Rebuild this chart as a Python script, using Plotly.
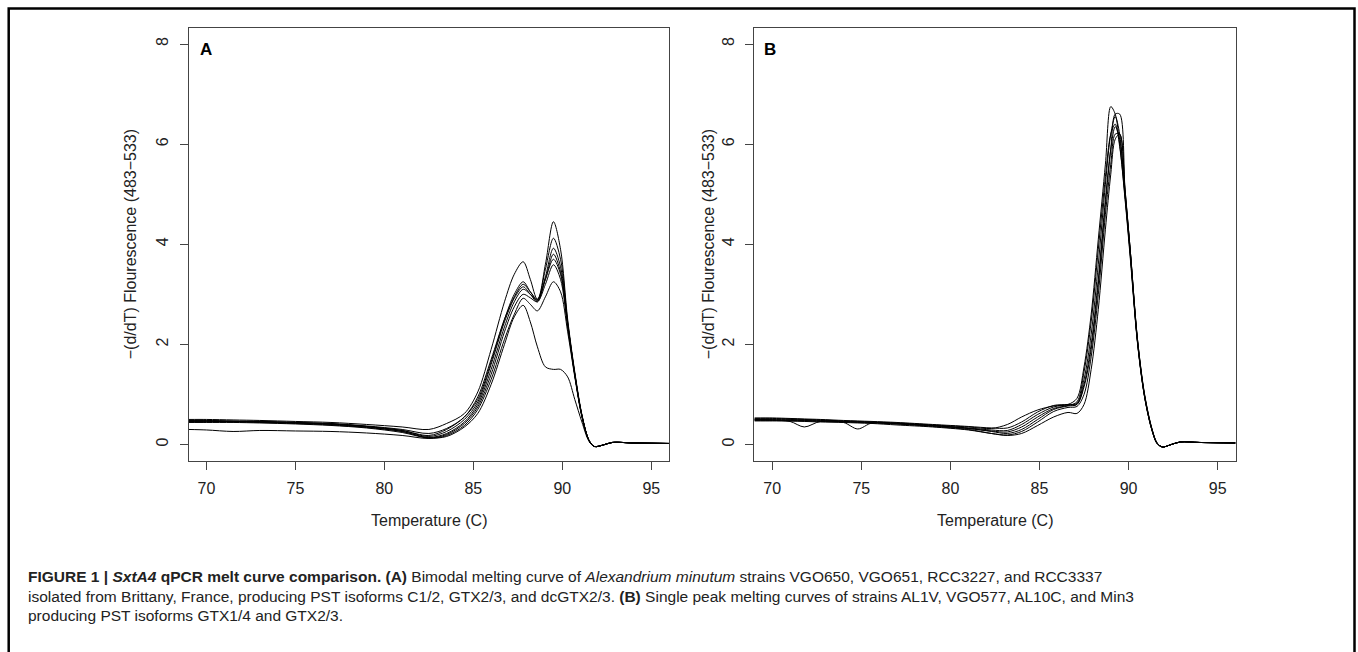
import plotly.graph_objects as go

# ---------------- data ----------------
temp_a = [69, 70, 71.5, 73, 75, 77, 79, 81, 82.5, 83.5, 84.5, 85.25, 86, 86.75, 87.3,
          87.8, 88.2, 88.6, 89.05, 89.5, 89.9, 90.3, 90.7, 91.1, 91.5, 91.8, 92.3, 92.8, 94, 96]

a1 = [0.48, 0.48, 0.47, 0.46, 0.44, 0.42, 0.37, 0.30, 0.22, 0.32, 0.55, 0.95, 1.70, 2.50, 2.95,
      3.20, 3.05, 2.90, 3.60, 4.45, 3.90, 2.50, 1.45, 0.60, 0.08, -0.04, -0.01, 0.04, 0.03, 0.02]
a2 = [0.46, 0.46, 0.46, 0.45, 0.43, 0.41, 0.36, 0.28, 0.18, 0.30, 0.55, 0.90, 1.65, 2.50, 3.00,
      3.25, 3.05, 2.88, 3.50, 4.12, 3.70, 2.45, 1.40, 0.58, 0.08, -0.04, -0.01, 0.04, 0.03, 0.02]
a3 = [0.50, 0.50, 0.49, 0.48, 0.46, 0.44, 0.40, 0.35, 0.30, 0.42, 0.62, 1.05, 1.90, 2.85, 3.40,
      3.65, 3.30, 2.90, 3.30, 3.80, 3.45, 2.40, 1.40, 0.58, 0.08, -0.04, -0.01, 0.04, 0.03, 0.02]
a4 = [0.47, 0.47, 0.46, 0.46, 0.44, 0.41, 0.36, 0.28, 0.16, 0.26, 0.50, 0.85, 1.60, 2.45, 2.92,
      3.15, 3.00, 2.85, 3.35, 3.92, 3.55, 2.42, 1.42, 0.58, 0.08, -0.04, -0.01, 0.04, 0.03, 0.02]
a5 = [0.45, 0.45, 0.45, 0.44, 0.42, 0.39, 0.34, 0.26, 0.14, 0.22, 0.45, 0.80, 1.50, 2.35, 2.85,
      3.10, 3.00, 2.88, 3.30, 3.70, 3.40, 2.40, 1.40, 0.57, 0.08, -0.04, -0.01, 0.04, 0.03, 0.02]
a6 = [0.44, 0.44, 0.44, 0.43, 0.41, 0.38, 0.33, 0.24, 0.13, 0.20, 0.42, 0.75, 1.40, 2.25, 2.75,
      3.00, 2.93, 2.85, 3.20, 3.59, 3.30, 2.35, 1.38, 0.57, 0.08, -0.04, -0.01, 0.04, 0.03, 0.02]
a7 = [0.30, 0.29, 0.26, 0.28, 0.27, 0.26, 0.23, 0.18, 0.12, 0.18, 0.38, 0.70, 1.30, 2.10, 2.60,
      2.92, 2.80, 2.67, 2.95, 3.25, 3.05, 2.25, 1.35, 0.55, 0.08, -0.04, -0.01, 0.04, 0.03, 0.02]
a8 = [0.47, 0.47, 0.46, 0.45, 0.43, 0.40, 0.35, 0.26, 0.13, 0.16, 0.35, 0.62, 1.20, 2.00, 2.55,
      2.78, 2.45, 1.95, 1.55, 1.50, 1.50, 1.35, 0.90, 0.45, 0.06, -0.04, -0.01, 0.04, 0.03, 0.02]
curves_a = [a1, a2, a3, a4, a5, a6, a7, a8]

temp_b = [69, 70, 71, 71.8, 72.7, 74, 74.8, 75.6, 77, 79, 81, 82.3, 83.2, 84, 84.9, 85.8, 86.6,
          87.1, 87.5, 87.9, 88.3, 88.7, 89.0, 89.25, 89.5, 89.8, 90.1, 90.5, 90.9, 91.3, 91.6,
          91.9, 92.4, 92.9, 94, 96]

b1 = [0.52, 0.52, 0.51, 0.50, 0.49, 0.47, 0.46, 0.45, 0.43, 0.39, 0.35, 0.32, 0.40, 0.55, 0.69, 0.77, 0.80,
      0.92, 1.55, 2.60, 4.10, 5.60, 6.75, 6.60, 6.00, 4.95, 3.75, 2.05, 0.95, 0.30, 0.02,
      -0.05, 0.00, 0.05, 0.04, 0.03]
b2 = [0.50, 0.50, 0.50, 0.49, 0.48, 0.46, 0.45, 0.44, 0.42, 0.38, 0.33, 0.29, 0.28, 0.40, 0.60, 0.75, 0.79,
      0.80, 1.15, 1.90, 3.20, 4.80, 5.90, 6.60, 6.60, 5.10, 3.85, 2.10, 0.98, 0.32, 0.03,
      -0.05, 0.00, 0.05, 0.04, 0.03]
b3 = [0.53, 0.53, 0.52, 0.51, 0.50, 0.48, 0.47, 0.46, 0.44, 0.40, 0.36, 0.33, 0.33, 0.45, 0.65, 0.78, 0.80,
      0.82, 1.30, 2.20, 3.60, 5.20, 6.20, 6.55, 6.20, 5.00, 3.80, 2.05, 0.95, 0.30, 0.02,
      -0.05, 0.00, 0.05, 0.04, 0.03]
b4 = [0.48, 0.48, 0.47, 0.47, 0.46, 0.45, 0.44, 0.43, 0.41, 0.37, 0.32, 0.27, 0.25, 0.35, 0.55, 0.72, 0.78,
      0.85, 1.45, 2.45, 3.90, 5.35, 6.20, 6.40, 5.95, 4.90, 3.70, 2.02, 0.94, 0.30, 0.02,
      -0.05, 0.00, 0.05, 0.04, 0.03]
b5 = [0.49, 0.49, 0.48, 0.48, 0.47, 0.46, 0.45, 0.44, 0.42, 0.38, 0.32, 0.26, 0.22, 0.30, 0.50, 0.70, 0.77,
      0.80, 1.20, 2.00, 3.30, 4.90, 5.90, 6.35, 6.10, 5.00, 3.80, 2.05, 0.96, 0.31, 0.02,
      -0.05, 0.00, 0.05, 0.04, 0.03]
b6 = [0.47, 0.47, 0.47, 0.46, 0.45, 0.44, 0.43, 0.42, 0.39, 0.35, 0.29, 0.22, 0.19, 0.26, 0.45, 0.66, 0.74,
      0.76, 1.00, 1.75, 3.00, 4.60, 5.60, 6.20, 6.20, 5.05, 3.85, 2.08, 0.97, 0.32, 0.03,
      -0.05, 0.00, 0.05, 0.04, 0.03]
b7 = [0.50, 0.49, 0.46, 0.35, 0.46, 0.44, 0.31, 0.43, 0.41, 0.36, 0.30, 0.22, 0.18, 0.22, 0.38, 0.55, 0.64,
      0.62, 0.80, 1.50, 2.70, 4.30, 5.40, 6.10, 6.20, 5.10, 3.85, 2.10, 1.00, 0.33, 0.03,
      -0.05, 0.00, 0.05, 0.04, 0.03]
curves_b = [b1, b2, b3, b4, b5, b6, b7]

x_ticks = [70, 75, 80, 85, 90, 95]
y_ticks = [0, 2, 4, 6, 8]
x_title = "Temperature (C)"
y_title = "\u2212(d/dT) Flourescence (483\u2212533)"
panel_labels = ["A", "B"]
caption_lines = [
    "<b>FIGURE 1 | <i>SxtA4</i> qPCR melt curve comparison. (A)</b> Bimodal melting curve of "
    "<i>Alexandrium minutum</i> strains VGO650, VGO651, RCC3227, and RCC3337",
    "isolated from Brittany, France, producing PST isoforms C1/2, GTX2/3, and dcGTX2/3. "
    "<b>(B)</b> Single peak melting curves of strains AL1V, VGO577, AL10C, and Min3",
    "producing PST isoforms GTX1/4 and GTX2/3.",
]

# ---------------- figure ----------------
W, H = 1358, 652
FONT = "Liberation Sans, Arial, Helvetica, sans-serif"

fig = go.Figure()
for c in curves_a:
    fig.add_trace(go.Scatter(x=temp_a, y=c, mode="lines", xaxis="x", yaxis="y",
                             line=dict(color="black", width=1, shape="spline", smoothing=0.9),
                             showlegend=False, hoverinfo="skip"))
for c in curves_b:
    fig.add_trace(go.Scatter(x=temp_b, y=c, mode="lines", xaxis="x2", yaxis="y2",
                             line=dict(color="black", width=1, shape="spline", smoothing=0.9),
                             showlegend=False, hoverinfo="skip"))

box_a = (188.6, 669.1)
box_b = (754.4, 1235.5)
top_px, bot_px = 28.0, 460.5


def px_x(p):
    return p / W


def px_y(p):
    return 1 - p / H


axis_common = dict(showline=True, mirror=True, linecolor="#444", linewidth=1,
                   ticks="outside", ticklen=8, tickwidth=1, tickcolor="#444",
                   showgrid=False, zeroline=False,
                   tickfont=dict(family=FONT, size=16, color="#222"),
                   ticklabelstandoff=5)

fig.update_layout(
    width=W, height=H,
    margin=dict(l=0, r=0, t=0, b=0),
    paper_bgcolor="white", plot_bgcolor="white",
    font=dict(family=FONT, color="#222"),
    xaxis=dict(domain=[px_x(box_a[0]), px_x(box_a[1])], range=[69.0, 96.0],
               tickvals=x_ticks, anchor="y", **axis_common),
    yaxis=dict(domain=[px_y(bot_px), px_y(top_px)], range=[-0.32, 8.32],
               tickvals=y_ticks, tickangle=-90, anchor="x", **axis_common),
    xaxis2=dict(domain=[px_x(box_b[0]), px_x(box_b[1])], range=[69.0, 96.0],
                tickvals=x_ticks, anchor="y2", **axis_common),
    yaxis2=dict(domain=[px_y(bot_px), px_y(top_px)], range=[-0.32, 8.32],
                tickvals=y_ticks, tickangle=-90, anchor="x2", **axis_common),
)

annotations = []
# axis titles
for (l, r), ytx in [(box_a, 130.0), (box_b, 708.0)]:
    annotations.append(dict(text=x_title, x=px_x((l + r) / 2), y=px_y(520), xref="paper", yref="paper",
                            showarrow=False, xanchor="center", yanchor="middle",
                            font=dict(family=FONT, size=16, color="#222")))
    annotations.append(dict(text=y_title, x=px_x(ytx), y=px_y((top_px + bot_px) / 2), xref="paper",
                            yref="paper", showarrow=False, textangle=-90, xanchor="center",
                            yanchor="middle", font=dict(family=FONT, size=16, color="#222")))
# panel labels
for lab, xp in zip(panel_labels, [206.0, 770.0]):
    annotations.append(dict(text="<b>" + lab + "</b>", x=px_x(xp), y=px_y(49), xref="paper", yref="paper",
                            showarrow=False, xanchor="center", yanchor="middle",
                            font=dict(family=FONT, size=17, color="black")))
# caption
for line, yp in zip(caption_lines, [576, 596, 615]):
    annotations.append(dict(text=line, x=px_x(26), y=px_y(yp), xref="paper", yref="paper",
                            showarrow=False, xanchor="left", yanchor="middle", align="left",
                            font=dict(family=FONT, size=15.5, color="#222")))
fig.update_layout(annotations=annotations)

# outer frame
fig.add_shape(type="rect", xref="paper", yref="paper",
              x0=px_x(8.7), x1=px_x(1354.5), y0=px_y(700), y1=px_y(8.5),
              line=dict(color="black", width=2.5), fillcolor="rgba(0,0,0,0)", layer="above")

fig.write_html("out.html", config={"displayModeBar": False},
               post_script="document.body.style.margin='0px';")
